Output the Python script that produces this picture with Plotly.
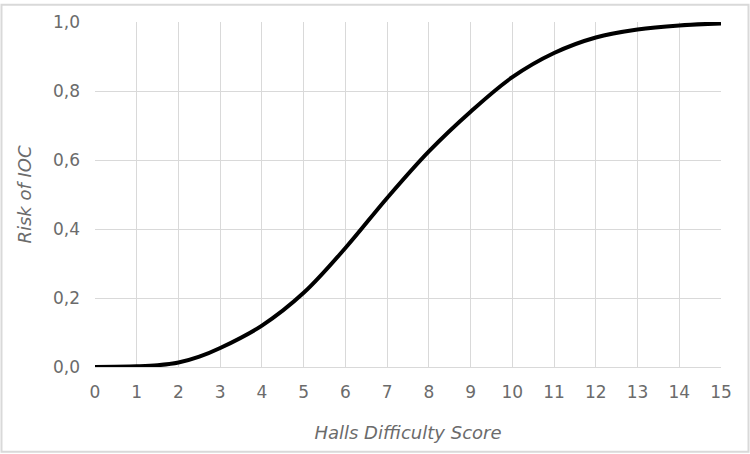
import plotly.graph_objects as go

# Data
halls_score = [0, 1, 1.5, 2, 2.5, 3, 4, 5, 6, 7, 8, 9, 10, 11, 12, 13, 14, 15]
risk_ioc = [0.0, 0.002, 0.005, 0.013, 0.03, 0.055, 0.12, 0.215, 0.345, 0.49, 0.625, 0.74,
            0.84, 0.91, 0.955, 0.978, 0.99, 0.996]

x_ticks = list(range(0, 16))
y_ticks = [0.0, 0.2, 0.4, 0.6, 0.8, 1.0]

W, H = 750, 454
L, R, T, B = 95, 29, 19, 87
pw, ph = W - L - R, H - T - B

font_family = "'DejaVu Sans', sans-serif"
grey = "#6b6b6b"

fig = go.Figure()
fig.add_trace(go.Scatter(
    x=halls_score, y=risk_ioc, mode="lines",
    line=dict(color="black", width=4, shape="spline", smoothing=1.0),
    hoverinfo="x+y", showlegend=False,
))

fig.update_layout(
    width=W, height=H,
    margin=dict(l=L, r=R, t=T, b=B),
    paper_bgcolor="white", plot_bgcolor="white",
    separators=", ",
    font=dict(family=font_family, color=grey, size=17),
    xaxis=dict(
        range=[0, 15], tickvals=x_ticks, ticktext=[str(v) for v in x_ticks],
        showgrid=True, gridcolor="#d9d9d9", gridwidth=1,
        showline=True, linecolor="#d9d9d9", linewidth=1,
        zeroline=False, ticks="", ticklen=0, ticklabelstandoff=10,
        tickfont=dict(size=17, color=grey),
        title=dict(text="<i>Halls Difficulty Score</i>", font=dict(size=18, color=grey), standoff=24),
        fixedrange=True,
    ),
    yaxis=dict(
        range=[0, 1.0], tickvals=y_ticks, tickformat=".1f",
        showgrid=True, gridcolor="#d9d9d9", gridwidth=1,
        showline=False, zeroline=False, ticks="", ticklen=0, ticklabelstandoff=14,
        tickfont=dict(size=17, color=grey),
        title=dict(text="<i>Risk of IOC</i>", font=dict(size=18, color=grey), standoff=16),
        fixedrange=True,
    ),
    shapes=[dict(
        type="rect", xref="paper", yref="paper",
        x0=-(L - 1.5) / pw, x1=1 + (R - 1.5) / pw,
        y0=-(B - 1.5) / ph, y1=1 + (T - 1.5) / ph,
        line=dict(color="#d9d9d9", width=2), fillcolor="rgba(0,0,0,0)",
        layer="below",
    )],
)

fig.write_html("out.html", config={"displayModeBar": False},
               post_script="document.body.style.margin='0';")
